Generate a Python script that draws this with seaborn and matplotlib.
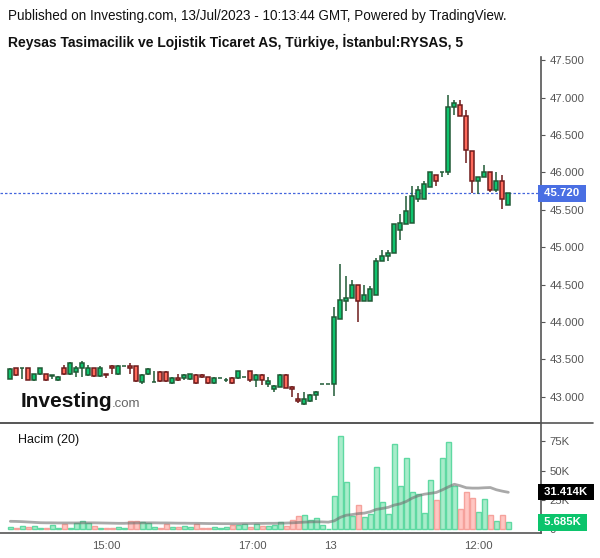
import matplotlib
matplotlib.use("Agg")
import matplotlib.pyplot as plt
import matplotlib.transforms as mtrans
from matplotlib.lines import Line2D
import seaborn as sns
import numpy as np
import pandas as pd

# ---------------- data (5-minute bars) ----------------
opens = [43.24, 43.38, 43.38, 43.38, 43.22, 43.30, 43.30, 43.28, 43.22, 43.39,
         43.30, 43.33, 43.39, 43.29, 43.38, 43.28, 43.30, 43.41, 43.30, 43.41,
         43.41, 43.41, 43.20, 43.30, 43.20, 43.33, 43.33, 43.18, 43.25, 43.25,
         43.24, 43.29, 43.29, 43.26, 43.18, 43.25, 43.22, 43.25, 43.25, 43.26,
         43.34, 43.22, 43.29, 43.17, 43.10, 43.13, 43.29, 43.13, 42.97, 42.90,
         42.94, 43.02, 43.17, 43.17,
         43.17, 44.04, 44.28, 44.32, 44.50, 44.28, 44.28, 44.36, 44.82, 44.88,
         44.92, 45.23, 45.31, 45.32, 45.65, 45.64, 45.80, 45.97, 46.00, 46.00,
         46.88, 46.90, 46.76, 46.28, 45.88, 45.94, 46.00, 45.77, 45.88, 45.56]
highs = [43.38, 43.39, 43.38, 43.38, 43.31, 43.39, 43.31, 43.29, 43.28, 43.43,
         43.46, 43.41, 43.48, 43.43, 43.39, 43.41, 43.31, 43.42, 43.42, 43.41,
         43.45, 43.41, 43.30, 43.38, 43.34, 43.34, 43.34, 43.26, 43.30, 43.31,
         43.31, 43.30, 43.30, 43.27, 43.26, 43.25, 43.25, 43.26, 43.34, 43.26,
         43.35, 43.31, 43.30, 43.27, 43.15, 43.30, 43.30, 43.14, 43.05, 43.06,
         43.03, 43.07, 43.17, 43.17,
         44.20, 44.78, 44.62, 44.56, 44.50, 44.50, 44.48, 44.86, 44.96, 44.96,
         45.31, 45.44, 45.69, 45.82, 45.82, 45.89, 46.00, 45.97, 46.00, 47.04,
         46.97, 46.97, 46.84, 46.28, 45.94, 46.10, 46.00, 46.00, 45.96, 45.72]
lows = [43.23, 43.28, 43.24, 43.22, 43.21, 43.29, 43.21, 43.24, 43.21, 43.29,
        43.29, 43.26, 43.26, 43.28, 43.27, 43.26, 43.25, 43.30, 43.29, 43.41,
        43.30, 43.20, 43.17, 43.29, 43.20, 43.20, 43.20, 43.17, 43.21, 43.22,
        43.22, 43.17, 43.25, 43.17, 43.17, 43.25, 43.19, 43.17, 43.24, 43.26,
        43.20, 43.13, 43.15, 43.13, 43.06, 43.13, 43.12, 42.99, 42.91, 42.89,
        42.93, 42.95, 43.17, 43.17,
        43.01, 44.04, 44.15, 44.32, 44.00, 44.28, 44.28, 44.36, 44.82, 44.81,
        44.92, 45.09, 45.31, 45.32, 45.60, 45.64, 45.80, 45.82, 45.94, 45.97,
        46.77, 46.76, 46.13, 45.72, 45.71, 45.94, 45.74, 45.74, 45.51, 45.56]
closes = [43.37, 43.29, 43.38, 43.22, 43.30, 43.38, 43.22, 43.29, 43.27, 43.30,
          43.45, 43.38, 43.45, 43.38, 43.28, 43.38, 43.29, 43.38, 43.41, 43.41,
          43.38, 43.21, 43.29, 43.37, 43.20, 43.21, 43.21, 43.25, 43.22, 43.29,
          43.30, 43.18, 43.26, 43.18, 43.25, 43.25, 43.22, 43.18, 43.34, 43.26,
          43.22, 43.29, 43.22, 43.21, 43.14, 43.29, 43.12, 43.10, 42.94, 42.97,
          43.02, 43.06, 43.17, 43.17,
          44.06, 44.30, 44.32, 44.50, 44.28, 44.36, 44.44, 44.82, 44.88, 44.92,
          45.31, 45.32, 45.48, 45.68, 45.77, 45.84, 46.00, 45.89, 46.00, 46.88,
          46.93, 46.76, 46.30, 45.88, 45.94, 46.00, 45.76, 45.89, 45.64, 45.72]
# volume in thousands
volumes = [1.7, 0.9, 2.9, 1.7, 2.9, 0.9, 0.9, 3.7, 0.9, 4.6,
           0.9, 5.1, 7.1, 5.1, 2.9, 0.9, 0.9, 0.9, 1.7, 0.9,
           7.1, 7.1, 6.0, 5.1, 1.7, 0.9, 4.3, 1.7, 1.7, 2.9,
           1.7, 4.6, 0.9, 0.9, 1.7, 0.9, 1.7, 3.1, 3.1, 4.6,
           1.7, 4.6, 2.9, 2.9, 3.7, 6.0, 2.9, 8.0, 11.4, 12.3,
           8.0, 9.4, 3.7, 0.4,
           28.5, 79.9, 40.2, 11.4, 20.5, 10.3, 12.8, 53.1, 23.4, 12.8,
           73.0, 37.1, 60.8, 31.9, 30.2, 13.7, 41.9, 25.1, 60.8, 74.5,
           36.5, 17.4, 31.9, 26.5, 14.8, 25.9, 12.0, 7.1, 12.0, 5.685]
# 20-period volume moving average (thousands)
vol_ma = [6.6, 6.5, 6.3, 6.0, 5.7, 5.4, 5.3, 5.3, 5.2, 5.2,
          5.2, 5.2, 5.3, 5.3, 5.3, 5.2, 5.1, 5.0, 4.9, 4.9,
          5.1, 5.2, 5.3, 5.3, 5.3, 5.2, 5.2, 5.1, 5.0, 5.0,
          4.9, 4.9, 4.8, 4.7, 4.7, 4.6, 4.6, 4.6, 4.6, 4.7,
          4.7, 4.8, 4.8, 4.9, 4.9, 5.0, 5.1, 5.3, 5.6, 5.9,
          6.1, 6.2, 6.1, 5.9,
          7.0, 10.0, 11.8, 12.4, 13.2, 13.6, 14.8, 16.8, 17.6, 18.6,
          20.5, 21.6, 23.6, 26.5, 28.5, 29.8, 30.5, 31.3, 33.5, 36.0,
          38.3, 37.0, 35.3, 35.0, 35.0, 35.3, 35.5, 33.6, 32.4, 31.414]

time_tick_pos = [16, 40.3, 53.3, 78]
time_tick_labels = ["15:00", "17:00", "13", "12:00"]
price_ticks = [43.0, 43.5, 44.0, 44.5, 45.0, 45.5, 46.0, 46.5, 47.0, 47.5]
vol_ticks = [0, 25, 50, 75]
vol_tick_labels = ["0", "25K", "50K", "75K"]
last_price = 45.72
last_vol = 5.685
last_ma = 31.414

title1 = "Published on Investing.com, 13/Jul/2023 - 10:13:44 GMT, Powered by TradingView."
title2 = "Reysas Tasimacilik ve Lojistik Ticaret AS, Türkiye, İstanbul:RYSAS, 5"

# ---------------- styling ----------------
sns.set_theme(style="white")
plt.rcParams['font.family'] = ['Liberation Sans', 'DejaVu Sans']

UP_FILL, UP_EDGE = "#0fc46e", "#1f5a35"
DN_FILL, DN_EDGE = "#ff6a5c", "#6e1b1b"
VUP_FILL, VUP_EDGE = "#a8ecca", "#5fd9a2"
VDN_FILL, VDN_EDGE = "#ffc6c2", "#f5a29c"
AX_COL = "#555555"
TXT_COL = "#555555"

df = pd.DataFrame(dict(i=np.arange(len(opens)), o=opens, h=highs, l=lows,
                       c=closes, v=volumes, ma=vol_ma))
df["up"] = df["c"] >= df["o"]

W, H = 600, 558
fig = plt.figure(figsize=(W / 100, H / 100), dpi=100)
fig.patch.set_facecolor("white")

x_right = 541
ax = fig.add_axes([0, 1 - 423 / H, x_right / W, (423 - 57) / H])
axv = fig.add_axes([0, 1 - 533 / H, x_right / W, (533 - 423) / H], sharex=ax)

# ---------------- candles ----------------
edge = np.where(df["up"], UP_EDGE, DN_EDGE)
fill = np.where(df["up"], UP_FILL, DN_FILL)
ax.vlines(df["i"], df["l"], df["h"], colors=edge, lw=1.1, zorder=2)
body_lo = np.minimum(df["o"], df["c"])
body_h = np.abs(df["c"] - df["o"])
ax.bar(df["i"], body_h, bottom=body_lo, width=0.62, color=fill,
       edgecolor=edge, linewidth=1.1, zorder=3)

ax.axhline(last_price, color="#4466dd", lw=0.9, ls=(0, (2, 1.6)), zorder=1)

ax.set_ylim(42.648, 47.544)
ax.set_xlim(-1.72, (x_right - 10.3) / 6.0)
ax.yaxis.tick_right()
ax.set_yticks(price_ticks)
ax.set_yticklabels([f"{p:.3f}" for p in price_ticks])
ax.tick_params(axis="y", direction="out", length=3, width=0.8, color=AX_COL,
               labelcolor=TXT_COL, labelsize=8.2, pad=3)
ax.tick_params(axis="x", bottom=False, labelbottom=False)
for s in ["top", "left", "bottom"]:
    ax.spines[s].set_visible(False)
ax.spines["right"].set_color(AX_COL)
ax.spines["right"].set_linewidth(1.2)
ax.set_xlabel("")
ax.set_ylabel("")

blend = mtrans.blended_transform_factory(ax.transAxes, ax.transData)
ax.text(1.0, last_price, " 45.720 ", transform=blend, ha="left", va="center",
        color="white", fontsize=8.2, fontweight="bold", zorder=10, clip_on=False,
        bbox=dict(boxstyle="square,pad=0.28", fc="#4a6fe3", ec="none"))

# ---------------- volume ----------------
up_df = df[df["up"]]
dn_df = df[~df["up"]]
sns.barplot(data=up_df, x="i", y="v", native_scale=True, width=0.88,
            color=VUP_FILL, edgecolor=VUP_EDGE, linewidth=1.0, saturation=1,
            ax=axv, zorder=2)
sns.barplot(data=dn_df, x="i", y="v", native_scale=True, width=0.88,
            color=VDN_FILL, edgecolor=VDN_EDGE, linewidth=1.0, saturation=1,
            ax=axv, zorder=2)
sns.lineplot(data=df, x="i", y="ma", ax=axv, color="#707070", lw=2.0,
             alpha=0.6, zorder=4)

axv.set_xlim(-1.72, (x_right - 10.3) / 6.0)
axv.set_ylim(-3.4, 90.7)
axv.yaxis.tick_right()
axv.set_yticks(vol_ticks)
axv.set_yticklabels(vol_tick_labels)
axv.tick_params(axis="y", direction="out", length=3, width=0.8, color=AX_COL,
                labelcolor=TXT_COL, labelsize=8.2, pad=3)
axv.set_xticks(time_tick_pos)
axv.set_xticklabels(time_tick_labels)
axv.tick_params(axis="x", direction="out", length=3, width=0.8, color=AX_COL,
                labelcolor=TXT_COL, labelsize=8.2, pad=3)
axv.spines["left"].set_visible(False)
for s in ["right", "bottom", "top"]:
    axv.spines[s].set_color(AX_COL)
    axv.spines[s].set_linewidth(1.2)
axv.set_xlabel("")
axv.set_ylabel("")

vblend = mtrans.blended_transform_factory(axv.transAxes, axv.transData)
axv.text(1.0, last_ma, " 31.414K ", transform=vblend, ha="left", va="center",
         color="white", fontsize=8.2, fontweight="bold", zorder=10, clip_on=False,
         bbox=dict(boxstyle="square,pad=0.28", fc="#000000", ec="none"))
axv.text(1.0, last_vol, " 5.685K ", transform=vblend, ha="left", va="center",
         color="white", fontsize=8.2, fontweight="bold", zorder=10, clip_on=False,
         bbox=dict(boxstyle="square,pad=0.28", fc="#0cc46c", ec="none"))
axv.text(18 / x_right, 1 - (440 - 423) / 110, "Hacim (20)", transform=axv.transAxes,
         ha="left", va="center", fontsize=9, color="#111111")

# separator line extending past the price scale
fig.add_artist(Line2D([0, 593 / W], [1 - 423 / H, 1 - 423 / H], color=AX_COL, lw=1.2))

# ---------------- titles & watermark ----------------
fig.text(8 / W, 1 - 16 / H, title1, ha="left", va="center", fontsize=9.75, color="#111111")
fig.text(8 / W, 1 - 42 / H, title2, ha="left", va="center", fontsize=10.0,
         fontweight="bold", color="#111111")
fig.text(21 / W, 1 - 407 / H, "Investing", ha="left", va="baseline", fontsize=15,
         fontweight="bold", color="#111111")
fig.text(112 / W, 1 - 407 / H, ".com", ha="left", va="baseline", fontsize=9.5,
         color="#666666")

fig.savefig("out.png", dpi=100, facecolor="white")
